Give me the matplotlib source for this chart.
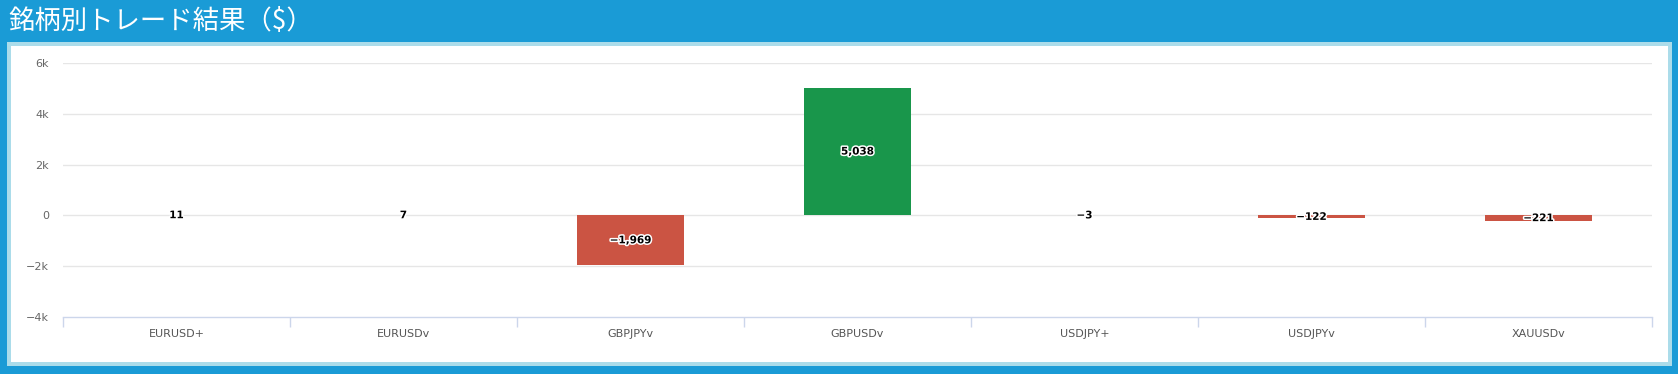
import matplotlib
matplotlib.use("Agg")
import matplotlib.pyplot as plt
import matplotlib.patheffects as pe
from matplotlib.patches import Rectangle
import numpy as np

categories = ["EURUSD+", "EURUSDv", "GBPJPYv", "GBPUSDv", "USDJPY+", "USDJPYv", "XAUUSDv"]
values = [11, 7, -1969, 5038, -3, -122, -221]
labels = ["11", "7", "\u22121,969", "5,038", "\u22123", "\u2212122", "\u2212221"]
yticks = [-4000, -2000, 0, 2000, 4000, 6000]
ytick_labels = ["\u22124k", "\u22122k", "0", "2k", "4k", "6k"]

W, H = 1678, 374
fig = plt.figure(figsize=(W / 100, H / 100), dpi=100)
fig.patch.set_facecolor("#1a9bd6")

def box(x0, y0, x1, y1, color):
    fig.patches.append(Rectangle((x0 / W, 1 - y1 / H), (x1 - x0) / W, (y1 - y0) / H,
                                 transform=fig.transFigure, facecolor=color,
                                 edgecolor="none", zorder=-5))

box(7, 42, 1672, 366, "#abdcea")
box(11, 46, 1668, 362, "#ffffff")

fig.text(8 / W, 1 - 21 / H, "銘柄別トレード結果（$）", color="white", fontsize=19,
         family=["Noto Sans CJK JP", "DejaVu Sans"], va="center", ha="left")

top, bot = 63.3, 316.7
left, right = 63, 1652
ax = fig.add_axes([left / W, 1 - bot / H, (right - left) / W, (bot - top) / H])
ax.set_facecolor("none")

x = np.arange(len(categories))
colors = ["#19964b" if v >= 0 else "#cb5443" for v in values]
ax.bar(x, values, width=0.475, color=colors, zorder=3)

for xi, v, lab in zip(x, values, labels):
    ax.text(xi, v / 2, lab, ha="center", va="center", fontsize=7.5, fontweight="bold",
            color="black", family="DejaVu Sans", zorder=5,
            path_effects=[pe.withStroke(linewidth=2.2, foreground="white")])

ax.set_xlim(-0.5, len(categories) - 0.5)
ax.set_ylim(-4000, 6000)
ax.set_yticks(yticks)
ax.set_yticklabels(ytick_labels)
for yv in yticks[1:]:
    ax.axhline(yv, color="#e6e6e6", linewidth=1, zorder=1)

for s in ["top", "right", "left"]:
    ax.spines[s].set_visible(False)
ax.spines["bottom"].set_color("#ccd6eb")
ax.spines["bottom"].set_linewidth(1)

ax.tick_params(axis="y", length=0, pad=10, labelsize=8, labelcolor="#666666")
ax.set_xticks(x)
ax.set_xticklabels(categories)
ax.tick_params(axis="x", which="major", length=0, pad=9, labelsize=8, labelcolor="#555555")
ax.set_xticks(np.arange(-0.5, len(categories) + 0.5, 1), minor=True)
ax.tick_params(axis="x", which="minor", length=7.5, width=1, color="#ccd6eb", direction="out")

fig.savefig("out.png", dpi=100, facecolor=fig.get_facecolor())
